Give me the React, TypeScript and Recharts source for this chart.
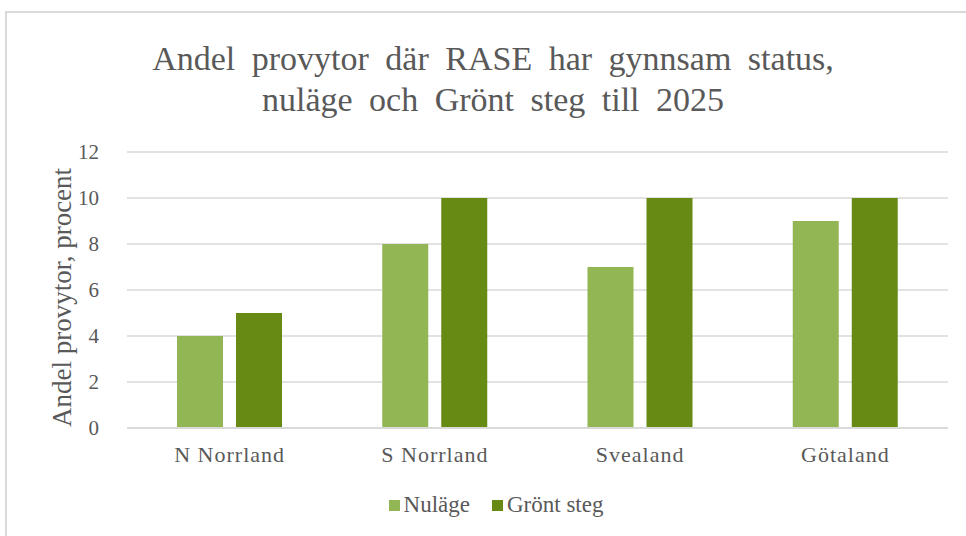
import React from "react";
import {
  BarChart,
  Bar,
  XAxis,
  YAxis,
  CartesianGrid,
  Legend,
} from "recharts";

const regions = ["N Norrland", "S Norrland", "Svealand", "Götaland"];
const nulage = [4, 8, 7, 9];
const grontSteg = [5, 10, 10, 10];
const yTicks = [0, 2, 4, 6, 8, 10, 12];
const seriesNames = ["Nuläge", "Grönt steg"];
const seriesColors = ["#93b655", "#668a14"];

const data = regions.map((name, i) => ({
  name,
  Nuläge: nulage[i],
  "Grönt steg": grontSteg[i],
}));

const FONT = "'Liberation Serif', 'Times New Roman', serif";
const TEXT = "#595959";

const LegendContent = () => (
  <div
    style={{
      display: "flex",
      justifyContent: "center",
      alignItems: "center",
      fontFamily: FONT,
      fontSize: 23,
      color: TEXT,
    }}
  >
    {seriesNames.map((n, i) => (
      <div
        key={n}
        style={{ display: "flex", alignItems: "center", marginLeft: i ? 22 : 0 }}
      >
        <span
          style={{
            width: 11,
            height: 11,
            background: seriesColors[i],
            display: "inline-block",
            marginRight: 4,
          }}
        />
        <span>{n}</span>
      </div>
    ))}
  </div>
);

export default function App() {
  return (
    <div
      style={{
        position: "absolute",
        left: 0,
        top: 0,
        width: 966,
        height: 536,
        background: "#fff",
        overflow: "hidden",
        fontFamily: FONT,
      }}
    >
      {/* chart frame */}
      <div
        style={{
          position: "absolute",
          left: 5,
          top: 11,
          width: 980,
          height: 540,
          border: "2px solid #d9d9d9",
          boxSizing: "border-box",
        }}
      />
      <div
        style={{
          position: "absolute",
          left: 0,
          width: 986,
          top: 38,
          textAlign: "center",
          color: TEXT,
          fontFamily: FONT,
          fontSize: 34,
          wordSpacing: 8,
          lineHeight: "41px",
        }}
      >
        Andel provytor där RASE har gynnsam status,
        <br />
        nuläge och Grönt steg till 2025
      </div>
      <div style={{ position: "absolute", left: 0, top: 0 }}>
        <BarChart
          width={966}
          height={536}
          data={data}
          margin={{ top: 152, right: 18, bottom: 78, left: 67 }}
          barCategoryGap={50}
          barGap={13}
        >
          <CartesianGrid vertical={false} stroke="#d9d9d9" strokeWidth={1.5} />
          <XAxis
            dataKey="name"
            axisLine={{ stroke: "#d9d9d9", strokeWidth: 2 }}
            tickLine={false}
            tick={{ fill: TEXT, fontSize: 22, fontFamily: FONT, letterSpacing: 1 }}
            tickMargin={12}
            height={30}
          />
          <YAxis
            domain={[0, 12]}
            ticks={yTicks}
            width={60}
            axisLine={false}
            tickLine={false}
            tick={{ fill: TEXT, fontSize: 21, fontFamily: FONT }}
            tickMargin={22}
            label={{
              value: "Andel provytor, procent",
              angle: -90,
              position: "insideLeft",
              dx: -11,
              dy: 137,
              style: { fill: TEXT, fontSize: 27, fontFamily: FONT, textAnchor: "start" },
            }}
          />
          <Legend
            verticalAlign="middle"
            align="center"
            layout="horizontal"
            wrapperStyle={{ top: 492, left: 0, width: 992 }}
            content={<LegendContent />}
          />
          <Bar dataKey="Nuläge" fill={seriesColors[0]} isAnimationActive={false} />
          <Bar dataKey="Grönt steg" fill={seriesColors[1]} isAnimationActive={false} />
        </BarChart>
      </div>
    </div>
  );
}
